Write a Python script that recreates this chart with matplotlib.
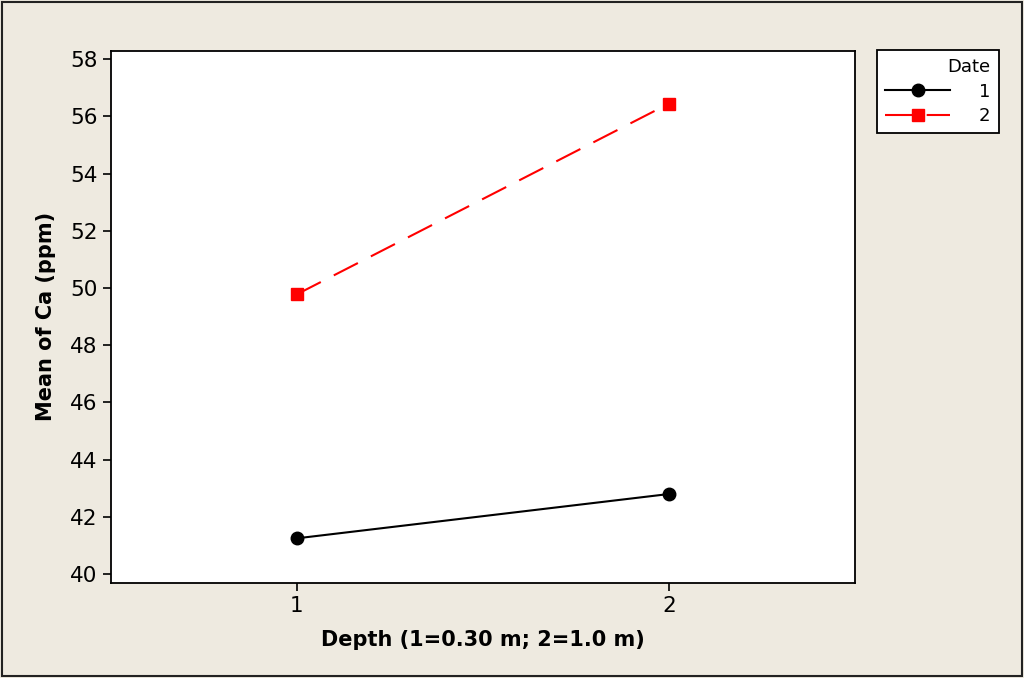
import matplotlib as mpl
import matplotlib.pyplot as plt
from matplotlib.patches import Rectangle

mpl.rcParams["font.family"] = ["DejaVu Sans"]

# interaction plot data
depth = [1, 2]
date_labels = ["1", "2"]
mean_ca_date1 = [41.25, 42.8]
mean_ca_date2 = [49.78, 56.45]

bg = "#EEEAE0"

fig = plt.figure(figsize=(10.24, 6.78), dpi=100, facecolor=bg)
ax = fig.add_axes([0.108, 0.1406, 0.727, 0.7846])
ax.set_facecolor("white")

ax.plot(depth, mean_ca_date1, color="black", linewidth=1.5,
        marker="o", markersize=9, label=date_labels[0])
ax.plot(depth, mean_ca_date2, color="#FF0000", linewidth=1.5,
        linestyle=(0, (13, 7)), marker="s", markersize=9,
        label=date_labels[1])

ax.set_xlim(0.5, 2.5)
ax.set_ylim(39.7, 58.3)
ax.set_xticks(depth)
ax.set_yticks(range(40, 59, 2))
ax.tick_params(direction="out", length=6, width=1.2, labelsize=15.5,
               top=False, right=False)
for side in ["left", "right", "top", "bottom"]:
    ax.spines[side].set_linewidth(1.3)

ax.set_xlabel("Depth (1=0.30 m; 2=1.0 m)", fontsize=15, fontweight="bold",
              labelpad=10)
ax.set_ylabel("Mean of Ca (ppm)", fontsize=15, fontweight="bold",
              labelpad=10)

leg = fig.legend(loc="upper left", bbox_to_anchor=(0.8565, 0.926),
                 borderaxespad=0,
                 title="Date", fontsize=13, title_fontsize=13,
                 frameon=True, fancybox=False, edgecolor="black",
                 facecolor="white", framealpha=1.0,
                 handlelength=3.6, markerfirst=True, alignment="right",
                 borderpad=0.45, handletextpad=1.6, labelspacing=0.35)
leg.get_frame().set_linewidth(1.3)
for txt in leg.get_texts():
    txt.set_ha("right")

# outer border of the figure
fig.patches.append(Rectangle((0.002, 0.003), 0.996, 0.994,
                             transform=fig.transFigure, fill=False,
                             edgecolor="#222222", linewidth=1.5))

fig.savefig("out.png", dpi=100, facecolor=bg)
